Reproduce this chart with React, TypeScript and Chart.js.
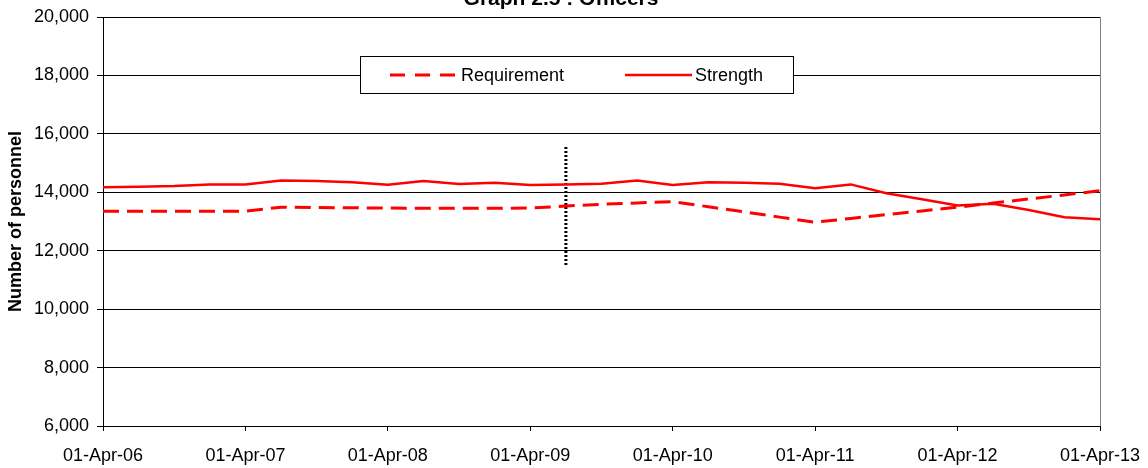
import React, { useEffect, useRef } from 'react';
import { Chart, registerables } from 'chart.js';

Chart.register(...registerables);

const FONT = '"Liberation Sans", Arial, Helvetica, sans-serif';

const chartTitle = 'Graph 2.5 : Officers';
const yAxisTitle = 'Number of personnel';
const yearLabels = [
  '01-Apr-06', '01-Apr-07', '01-Apr-08', '01-Apr-09',
  '01-Apr-10', '01-Apr-11', '01-Apr-12', '01-Apr-13',
];
const seriesNames = ['Requirement', 'Strength'];

// quarterly values, 01-Apr-06 .. 01-Apr-13
const strength = [
  14170, 14190, 14215, 14270,
  14270, 14400, 14385, 14345,
  14260, 14385, 14280, 14330,
  14250, 14270, 14290, 14400,
  14250, 14340, 14330, 14295,
  14135, 14270, 13965, 13760,
  13545, 13610, 13395, 13145,
  13080,
];
const requirement = [
  13350, 13350, 13350, 13350,
  13350, 13490, 13480, 13470,
  13460, 13455, 13455, 13455,
  13460, 13530, 13590, 13635,
  13680, 13505, 13330, 13150,
  12975, 13105, 13235, 13360,
  13490, 13630, 13770, 13910,
  14055,
];
const markerQuarter = 13;
const markerValues = [15550, 11450];

const yMin = 6000;
const yMax = 20000;
const yStep = 2000;
const quartersPerYear = 4;

const decorPlugin = {
  id: 'decor',
  afterDraw(chart: any) {
    const ctx = chart.ctx;
    const a = chart.chartArea;
    ctx.save();
    // right frame line
    ctx.strokeStyle = '#808080';
    ctx.lineWidth = 1;
    ctx.beginPath();
    ctx.moveTo(Math.round(a.right) + 0.5, a.top);
    ctx.lineTo(Math.round(a.right) + 0.5, a.bottom);
    ctx.stroke();

    // title
    ctx.fillStyle = '#000';
    ctx.font = `bold 21px ${FONT}`;
    ctx.textAlign = 'center';
    ctx.textBaseline = 'alphabetic';
    ctx.fillText(chartTitle, 561, 5);

    // legend box
    const bx = 360.5, by = 56.5, bw = 433, bh = 37;
    ctx.fillStyle = '#fff';
    ctx.fillRect(bx, by, bw, bh);
    ctx.strokeStyle = '#000';
    ctx.lineWidth = 1;
    ctx.strokeRect(bx, by, bw, bh);
    const ly = 75;
    // requirement sample
    ctx.strokeStyle = '#ff0000';
    ctx.lineWidth = 3;
    ctx.setLineDash([15, 10]);
    ctx.beginPath();
    ctx.moveTo(390, ly);
    ctx.lineTo(456, ly);
    ctx.stroke();
    // strength sample
    ctx.setLineDash([]);
    ctx.lineWidth = 2.5;
    ctx.beginPath();
    ctx.moveTo(625, ly);
    ctx.lineTo(692, ly);
    ctx.stroke();
    ctx.fillStyle = '#000';
    ctx.font = `18px ${FONT}`;
    ctx.textAlign = 'left';
    ctx.textBaseline = 'middle';
    ctx.fillText(seriesNames[0], 461, ly + 1);
    ctx.fillText(seriesNames[1], 695, ly + 1);
    ctx.restore();
  },
};

export default function App() {
  const ref = useRef<HTMLCanvasElement | null>(null);

  useEffect(() => {
    if (!ref.current) return;
    const chart = new Chart(ref.current, {
      type: 'line',
      data: {
        datasets: [
          {
            label: seriesNames[0],
            data: requirement.map((v, i) => ({ x: i, y: v })),
            borderColor: '#ff0000',
            borderWidth: 3,
            borderDash: [16, 8],
            pointRadius: 0,
            tension: 0,
            fill: false,
          },
          {
            label: seriesNames[1],
            data: strength.map((v, i) => ({ x: i, y: v })),
            borderColor: '#ff0000',
            borderWidth: 2.5,
            pointRadius: 0,
            tension: 0,
            fill: false,
          },
          {
            label: 'marker',
            data: markerValues.map((v) => ({ x: markerQuarter, y: v })),
            borderColor: '#000',
            borderWidth: 3,
            borderDash: [2, 2],
            pointRadius: 0,
            tension: 0,
            fill: false,
          },
        ],
      },
      options: {
        responsive: false,
        animation: false,
        layout: { padding: { left: 0, right: 48, top: 17, bottom: 0 } },
        plugins: {
          legend: { display: false },
          title: { display: false },
          tooltip: { enabled: false },
        },
        scales: {
          x: {
            type: 'linear',
            min: 0,
            max: (yearLabels.length - 1) * quartersPerYear,
            afterFit: (s: any) => {
              s.height = 42;
              s.paddingLeft = 0;
              s.paddingRight = 0;
            },
            grid: {
              display: true,
              drawOnChartArea: false,
              drawTicks: true,
              tickLength: 5,
              color: '#000',
              lineWidth: 1,
            },
            border: { display: true, color: '#000', width: 1 },
            ticks: {
              stepSize: quartersPerYear,
              autoSkip: false,
              maxRotation: 0,
              padding: 14,
              color: '#000',
              font: { family: FONT, size: 18 },
              callback: (v: any) => yearLabels[Math.round(Number(v) / quartersPerYear)] ?? '',
            },
          },
          y: {
            min: yMin,
            max: yMax,
            afterFit: (s: any) => {
              s.width = 103;
              s.paddingTop = 0;
              s.paddingBottom = 0;
            },
            grid: {
              color: '#000',
              lineWidth: 1,
              drawTicks: true,
              tickLength: 6,
            },
            border: { display: true, color: '#000', width: 1 },
            ticks: {
              stepSize: yStep,
              padding: 8,
              color: '#000',
              font: { family: FONT, size: 18 },
              callback: (v: any) => Number(v).toLocaleString('en-US'),
            },
            title: {
              display: true,
              text: yAxisTitle,
              color: '#000',
              font: { family: FONT, size: 18, weight: 'bold' },
              padding: { top: 5, bottom: 0 },
            },
          },
        },
      },
      plugins: [decorPlugin],
    } as any);
    return () => chart.destroy();
  }, []);

  return (
    <div style={{ position: 'absolute', left: 0, top: 0, width: 1148, height: 468, background: '#fff' }}>
      <canvas ref={ref} width={1148} height={468} style={{ display: 'block' }} />
    </div>
  );
}
